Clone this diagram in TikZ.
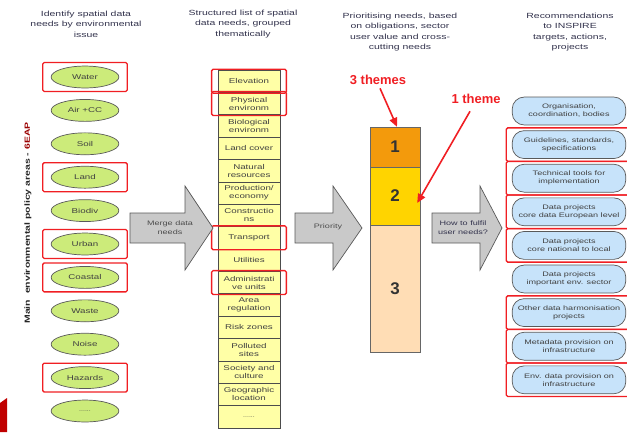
\documentclass[tikz,border=0pt]{standalone}
\usepackage{fontspec}
\setmainfont[FakeStretch=1.4]{Liberation Sans}
\newfontfamily\plainsans{Liberation Sans}
\usetikzlibrary{arrows.meta,shapes.geometric}
\definecolor{issuegreen}{HTML}{CCEB7A}
\definecolor{themeyellow}{HTML}{FFFFA6}
\definecolor{recblue}{HTML}{C7E3FA}
\definecolor{arrowgray}{HTML}{C9C9C9}
\definecolor{prioone}{HTML}{F39A0C}
\definecolor{priotwo}{HTML}{FFD400}
\definecolor{priothree}{HTML}{FFDDB5}
\definecolor{headink}{HTML}{33334D}
\definecolor{markred}{HTML}{F01E23}
\definecolor{logored}{HTML}{C00000}
\newcommand{\moredots}{{\tiny ......}}

\begin{document}
\begin{tikzpicture}[x=1bp,y=-1bp]
    		\newcommand{\issx}{85} % centre of the issue column
    		\newcommand{\issy}{77} % first issue
    		\newcommand{\issd}{33.4} % spacing of the issues
    		\newcommand{\themx}{249}
    		\newcommand{\themy}{70} % top of the list
    		\newcommand{\rowh}{22.375} % height of one row
    		\newcommand{\recx}{569}
    		\newcommand{\recy}{111}
    		\newcommand{\recd}{33.6}

    		% set the styles of the columns
    		\tikzset{
    			head/.style={align=center, text=headink, font=\fontsize{7.5}{10.5}\selectfont},
    			issue/.style={ellipse, draw=black!65, line width=0.7pt, fill=issuegreen,
    				minimum width=68, minimum height=22, inner sep=0pt,
    				font=\fontsize{7}{8}\selectfont, text=black!75},
    			themebox/.style={rectangle, draw=black!70, line width=0.6pt, fill=themeyellow,
    				minimum width=62, minimum height=\rowh, inner sep=0pt, align=center,
    				font=\fontsize{7}{8}\selectfont, text=black!75},
    			recom/.style={rectangle, rounded corners=12, draw=black!65, line width=0.7pt,
    				fill=recblue, minimum width=114, minimum height=28, inner sep=0pt,
    				align=center, font=\fontsize{6.5}{8}\selectfont, text=black!75},
    			prio/.style={rectangle, draw=black!60, line width=0.6pt, minimum width=50,
    				inner sep=0pt, font=\plainsans\bfseries\fontsize{17}{20}\selectfont, text=black!80},
    			redbox/.style={rectangle, draw=markred, line width=1.3pt, rounded corners=1.5pt, inner sep=0pt},
    			blockarrow/.style={draw=black!65, line width=0.7pt, fill=arrowgray},
    			themelabel/.style={text=markred, font=\plainsans\bfseries\fontsize{13}{15}\selectfont},
    			redarrow/.style={draw=markred, line width=1.6pt, -{Triangle[length=9pt,width=8pt]}}
    		}

    		\useasboundingbox (0,0) rectangle (627,432);

    		% headers
    		\node[head] (hissue) at (86,24) {Identify spatial data\\needs by environmental\\issue};
    		\node[head] (htheme) at (243,24) {Structured list of spatial\\data needs, grouped\\thematically};
    		\node[head] (hprio) at (400,32) {Prioritising needs, based\\on obligations, sector\\user value and cross-\\cutting needs};
    		\node[head] (hrecom) at (570,32) {Recommendations\\to INSPIRE\\targets, actions,\\projects};

    		% side label
    		\node[rotate=90, text=black!85, font=\bfseries\fontsize{7.5}{8}\selectfont] (policy) at (28,223)
    			{Main~ environmental policy areas - \textcolor{logored!80!black}{6EAP}};
    		\fill[logored] (0,403) -- (7,398) -- (7,432) -- (0,432) -- cycle;

    		% environmental issues
    		\foreach \name [count=\i] in {Water, Air +CC, Soil, Land, Biodiv, Urban, Coastal, Waste, Noise, Hazards, \moredots}
    			\node[issue] (is\i) at (\issx, \issy+\i*\issd-\issd) {\name};
    		\foreach \i in {1,4,6,7,10}
    			\node[redbox, minimum width=85, minimum height=29] (rbi\i) at (is\i) {};

    		% structured list
    		\foreach \name [count=\i] in {Elevation, {Physical\\environm}, {Biological\\environm}, Land cover,
    				{Natural\\resources}, {Production/\\economy}, {Constructio\\ns}, Transport, Utilities,
    				{Administrati\\ve units}, {Area\\regulation}, Risk zones, {Polluted\\sites},
    				{Society and\\culture}, {Geographic\\location}, \moredots}
    			\node[themebox] (th\i) at (\themx, \themy+\i*\rowh-0.5*\rowh) {\name};
    		\foreach \i in {1,2,8,10}
    			\node[redbox, minimum width=75, minimum height=24] (rbt\i) at (th\i) {};

    		% block arrows
    		\foreach \bl/\hb/\tip in {130/185/213, 295/333/362, 432/480/502}
    			\draw[blockarrow] (\bl,213) -- (\hb,213) -- (\hb,186) -- (\tip,228) -- (\hb,270) -- (\hb,243) -- (\bl,243) -- cycle;
    		\node[head, text=black!70, font=\fontsize{6.5}{9}\selectfont] (amerge) at (170,228) {Merge data\\needs};
    		\node[head, text=black!70, font=\fontsize{6.5}{9}\selectfont] (aprio) at (328,227) {Priority};
    		\node[head, text=headink, font=\fontsize{6.5}{9}\selectfont] (afulfil) at (463,228) {How to fulfil\\user needs?};

    		% priority levels
    		\node[prio, fill=prioone, minimum height=40] (p1) at (395,147) {1};
    		\node[prio, fill=priotwo, minimum height=58] (p2) at (395,196) {2};
    		\node[prio, fill=priothree, minimum height=128] (p3) at (395,289) {3};

    		\node[themelabel] (tthree) at (378,80) {3 themes};
    		\node[themelabel] (tone) at (476,99) {1 theme};
    		\draw[redarrow] ([xshift=2]tthree.south) -- ([xshift=2]p1.north);
    		\draw[redarrow] ([xshift=-6,yshift=-4]tone.south) -- ([xshift=-3,yshift=-7]p2.east);

    		% recommendations
    		\foreach \name [count=\i] in {{Organisation,\\coordination, bodies}, {Guidelines, standards,\\specifications},
    				{Technical tools for\\implementation}, {Data projects\\core data European level},
    				{Data projects\\core national to local}, {Data projects\\important env. sector},
    				{Other data harmonisation\\projects}, {Metadata provision on\\infrastructure},
    				{Env. data provision on\\infrastructure}}
    			\node[recom] (rec\i) at (\recx, \recy+\i*\recd-\recd) {\name};
    		\foreach \i in {2,3,4,5,7,8,9}
    			\node[redbox, minimum width=123, minimum height=\recd] (rbr\i) at ([xshift=-1.5]rec\i.center) {};

\end{tikzpicture}
\end{document}
